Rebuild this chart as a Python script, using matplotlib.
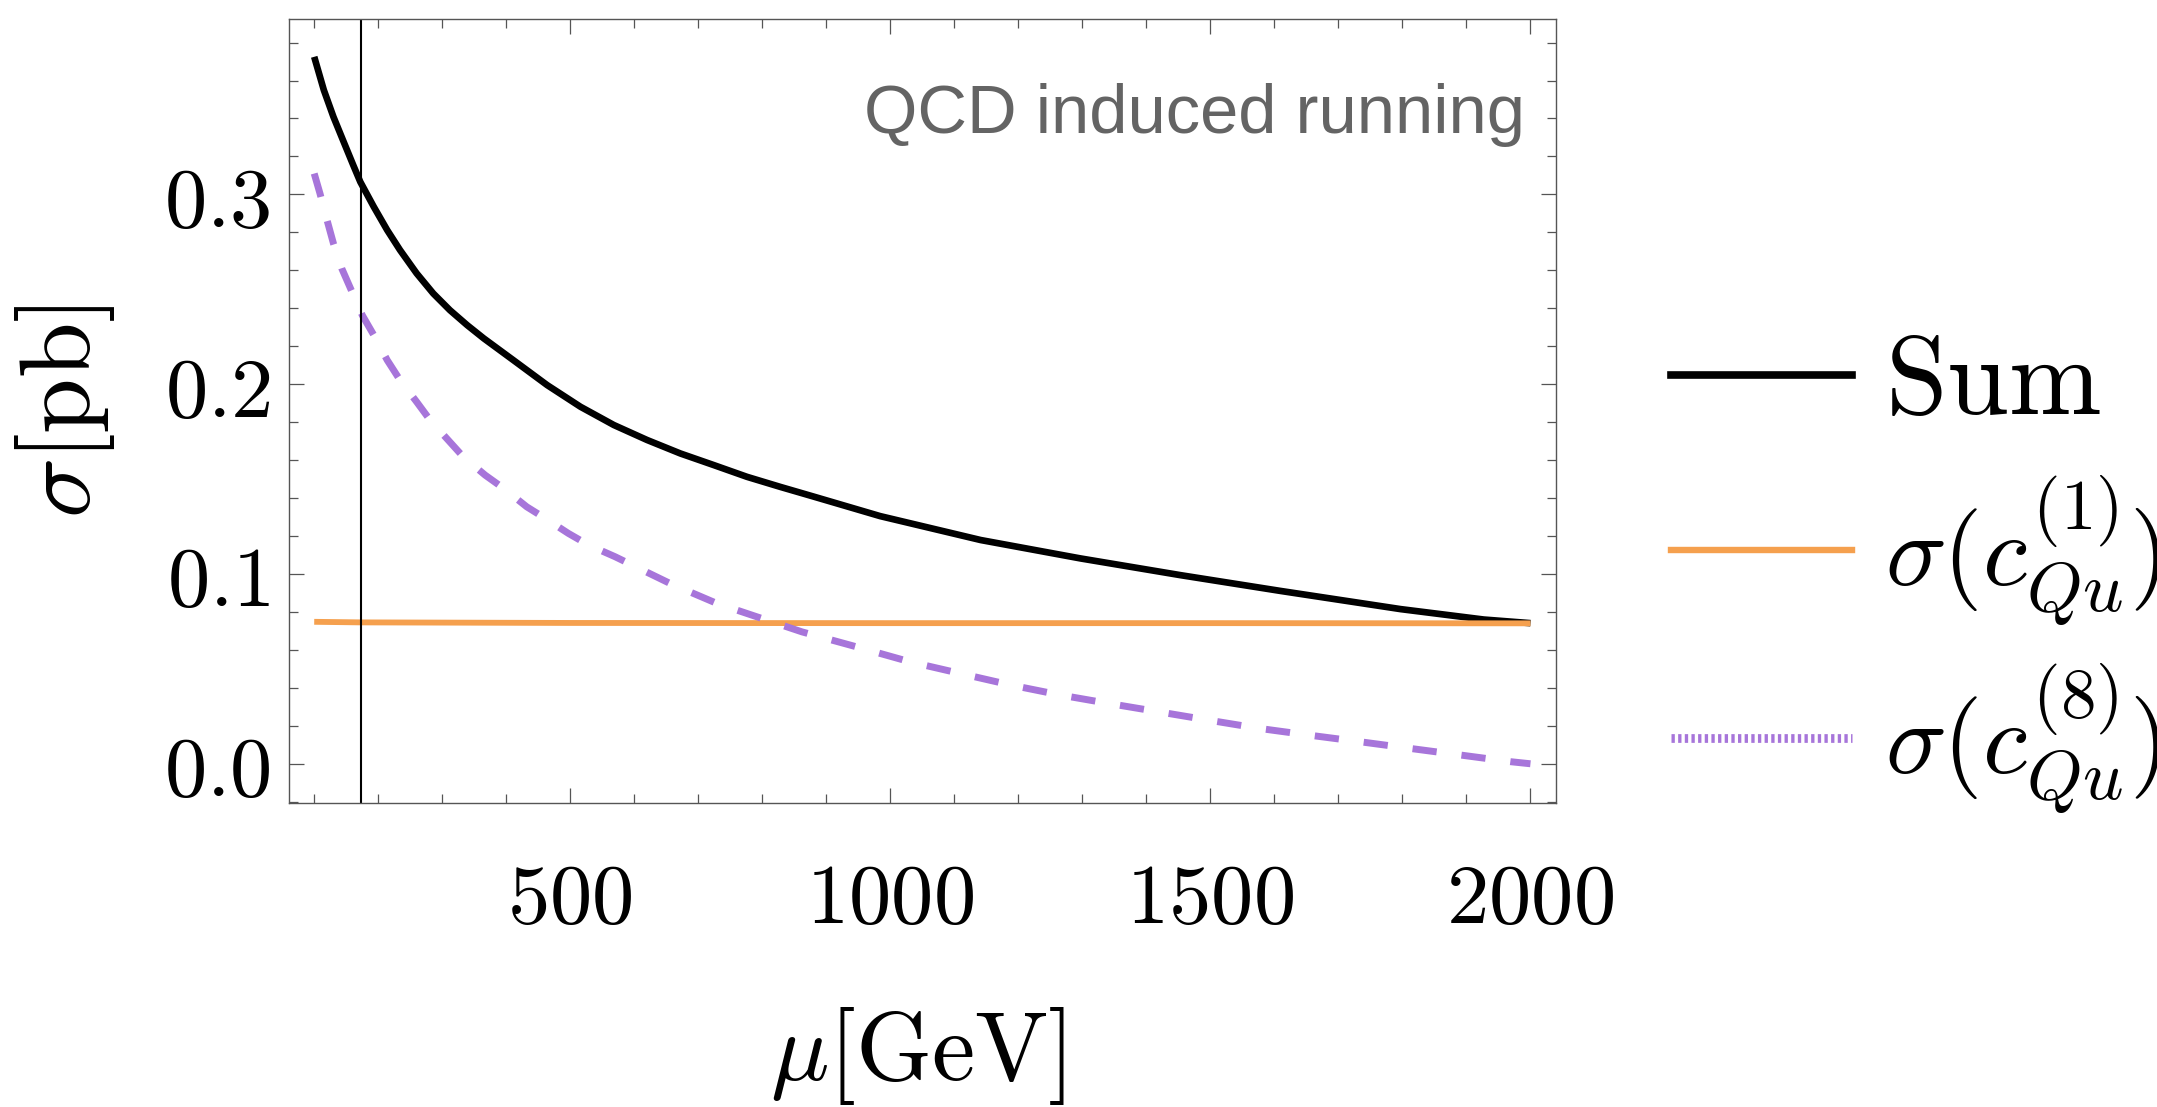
import numpy as np
import matplotlib
matplotlib.use("Agg")
import matplotlib.pyplot as plt
from matplotlib.lines import Line2D
from matplotlib.ticker import MultipleLocator, FuncFormatter

plt.rcParams['mathtext.fontset'] = 'cm'

# values
mu_sum = [100, 115, 130, 146, 161, 172, 193, 214, 234, 260, 286, 312, 339, 365,
          411, 464, 516, 568, 620, 672, 724, 776, 828, 880, 984, 1141, 1297,
          1453, 1609, 1797, 1927, 2000]
sig_sum = [0.3725, 0.355, 0.3409, 0.3277, 0.3154, 0.3066, 0.2935, 0.2812,
           0.2707, 0.2584, 0.2478, 0.2390, 0.2311, 0.2241, 0.2127, 0.1995,
           0.1881, 0.1785, 0.1706, 0.1635, 0.1574, 0.1512, 0.1459, 0.1408,
           0.1305, 0.1179, 0.1082, 0.0994, 0.0911, 0.0815, 0.0760, 0.0741]

mu_c1 = [100, 172, 500, 1000, 1500, 2000]
sig_c1 = [0.0748, 0.0745, 0.0742, 0.0741, 0.0741, 0.0740]

mu_c8 = [100, 109, 120, 130, 143, 159, 175, 193, 214, 234, 260, 281, 333, 367,
         396, 432, 461, 497, 529, 570, 656, 729, 807, 862, 956, 1031, 1109,
         1188, 1266, 1341, 1419, 1497, 1575, 1654, 1734, 1812, 1891, 1969, 2000]
sig_c8 = [0.311, 0.3005, 0.2865, 0.2742, 0.261, 0.2487, 0.2364, 0.2259, 0.2127,
          0.2022, 0.1907, 0.1811, 0.1617, 0.1521, 0.1451, 0.1354, 0.1293,
          0.1214, 0.1152, 0.1091, 0.095, 0.0845, 0.0757, 0.0695, 0.0608,
          0.0537, 0.0476, 0.0415, 0.0362, 0.0318, 0.0274, 0.023, 0.0187,
          0.0151, 0.0116, 0.0081, 0.0046, 0.0011, 0.0]

m_top = 172.5

orange = '#F5A04E'
purple = '#A775DA'

fig = plt.figure(figsize=(21.57, 11.07), dpi=100)
ax = fig.add_axes([0.1338, 0.2749, 0.7214 - 0.1338, 0.9828 - 0.2749])

ax.plot(mu_sum, sig_sum, color='black', lw=4.8, solid_capstyle='butt')
ax.plot(mu_c1, sig_c1, color=orange, lw=4.2, solid_capstyle='butt')
ax.plot(mu_c8, sig_c8, color=purple, lw=5.0, linestyle=(0, (3.5, 3.6)))
ax.axvline(m_top, color='black', lw=1.5)

ax.set_xlim(60, 2040)
ax.set_ylim(-0.0205, 0.3924)

ax.xaxis.set_major_locator(MultipleLocator(500))
ax.xaxis.set_minor_locator(MultipleLocator(100))
ax.yaxis.set_major_locator(MultipleLocator(0.1))
ax.yaxis.set_minor_locator(MultipleLocator(0.02))
ax.xaxis.set_major_formatter(FuncFormatter(lambda v, p: r'$%d$' % round(v)))
ax.yaxis.set_major_formatter(FuncFormatter(lambda v, p: r'$%.1f$' % v))

ax.tick_params(which='both', direction='in', top=True, right=True,
               color='#555555', width=0.9, labelsize=61)
ax.tick_params(which='major', length=10.8)
ax.tick_params(which='minor', length=6.3)
ax.tick_params(axis='x', pad=40)
ax.tick_params(axis='y', pad=13)
for s in ax.spines.values():
    s.set_color('#555555')
    s.set_linewidth(1.0)

ax.set_xlabel(r'$\mu[\mathrm{GeV}]$', fontsize=70)
ax.set_ylabel(r'$\sigma[\mathrm{pb}]$', fontsize=72)
ax.xaxis.set_label_coords(0.496, -0.258)
ax.yaxis.set_label_coords(-0.1355, 0.5)

ax.text(0.9755, 0.8545, 'QCD induced running', transform=ax.transAxes,
        ha='right', va='baseline', fontsize=49.5, color='#646464',
        family='Liberation Sans')

# legend, one box per entry so the rows sit like in the reference
entries = [
    (Line2D([], [], color='black', lw=5.5), r'$\mathrm{Sum}$', 80, 0.5354),
    (Line2D([], [], color=orange, lw=4.6), r'$\sigma(c_{Qu}^{(1)})$', 73, 0.3212),
    (Line2D([], [], color=purple, lw=6.3, linestyle=(0, (0.38, 0.38))),
     r'$\sigma(c_{Qu}^{(8)})$', 73, 0.0813),
]
for i, (h, lab, fs, yy) in enumerate(entries):
    em = fs / 72 * 100
    leg = ax.legend([h], [lab], loc='center left', bbox_to_anchor=(1.0907, yy),
                    frameon=False, fontsize=fs, handlelength=181 / em,
                    handletextpad=33 / em, borderpad=0, borderaxespad=0)
    if i < len(entries) - 1:
        ax.add_artist(leg)

fig.savefig('out.png', dpi=100)
